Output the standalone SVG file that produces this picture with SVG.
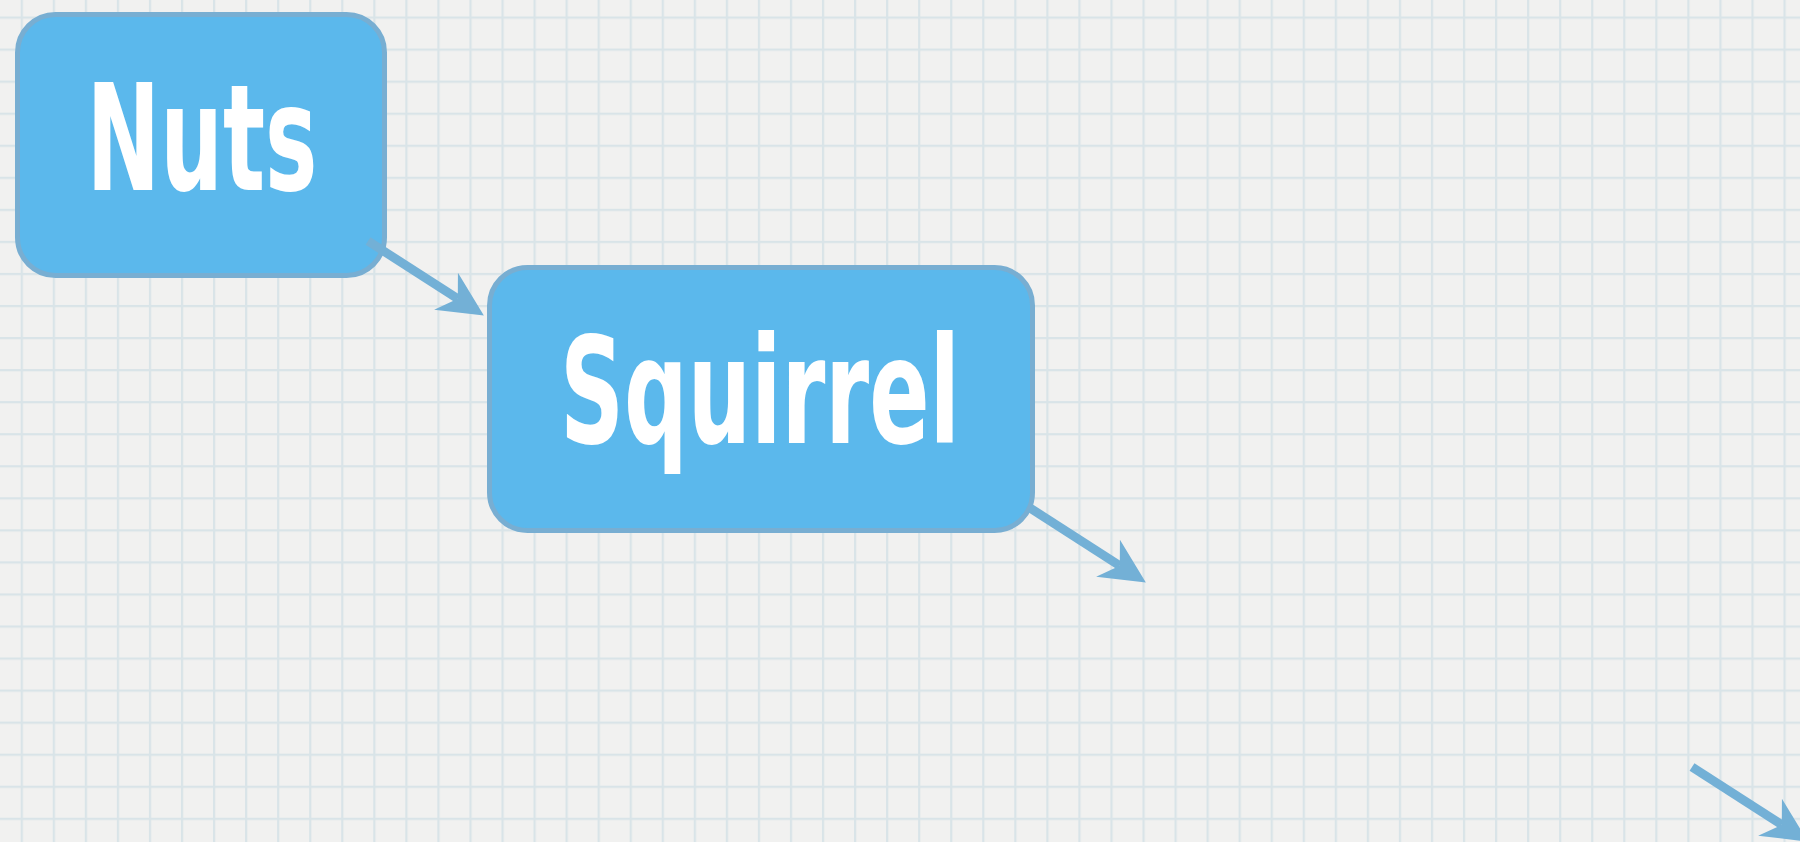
<svg xmlns="http://www.w3.org/2000/svg" width="1800" height="842" viewBox="0 0 1800 842">
<style>
.node{fill:#5BB8EC;stroke:#78AED2;stroke-width:5}
.lbl{fill:#FFFFFF;font-family:"DejaVu Sans Condensed","DejaVu Sans",sans-serif;font-weight:bold;font-size:148px;text-anchor:middle}
.conn{fill:none;stroke:#73B0D6;stroke-width:9;marker-end:url(#head)}
</style>
<defs>
<pattern id="grid" patternUnits="userSpaceOnUse" x="20.7" y="16.5" width="32.05" height="32.05">
<rect x="0" y="0" width="32.05" height="32.05" fill="#F1F1F0"/>
<rect x="0" y="0" width="2.2" height="32.05" fill="#D9E4E8"/>
<rect x="0" y="0" width="32.05" height="2.2" fill="#D9E4E8"/>
</pattern>
<marker id="head" markerUnits="userSpaceOnUse" viewBox="0 -24 46 48" refX="14" refY="0" markerWidth="46" markerHeight="48" orient="auto" overflow="visible">
<polygon points="0,-22 45,0 0,22 14,0" fill="#73B0D6"/>
</marker>
</defs>
<rect width="1800" height="842" fill="url(#grid)"/>
<g id="node-nuts">
<rect class="node" x="17.5" y="14.5" width="367" height="261" rx="38" ry="38"/>
<text class="lbl" x="202" y="190" textLength="231" lengthAdjust="spacingAndGlyphs">Nuts</text>
</g>
<g id="node-squirrel">
<rect class="node" x="489.5" y="267.5" width="543" height="263" rx="38" ry="38"/>
<text class="lbl" x="760" y="443" textLength="400" lengthAdjust="spacingAndGlyphs">Squirrel</text>
</g>
<g id="connectors">
<path class="conn" d="M368,241 L457.8,298.8"/>
<path class="conn" d="M1030,508 L1119.8,565.8"/>
<path class="conn" d="M1692,767 L1781.8,824.8"/>
</g>
</svg>
